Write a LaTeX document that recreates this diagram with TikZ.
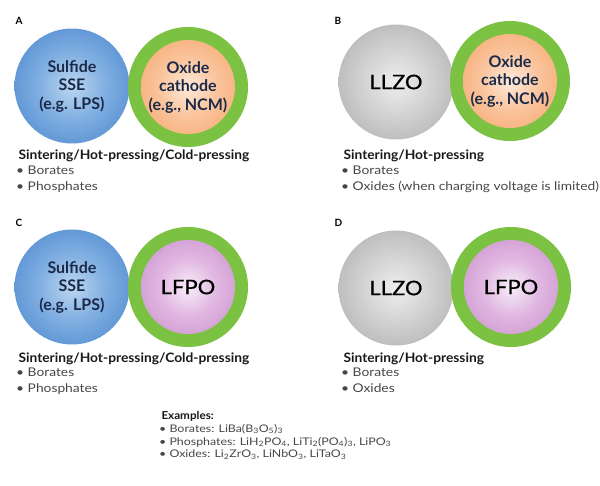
\documentclass[tikz,border=0pt]{standalone}
\usepackage{fontspec}
\setmainfont{Lato}
\newfontfamily\headfont{Lato}[FakeStretch=1.06]
\newfontfamily\listfont{Lato}[FakeStretch=1.15]
\newfontfamily\exfont{Lato}[FakeStretch=1.18]
\newfontfamily\widefont{Lato}[FakeStretch=1.1, FakeBold=0.6]
\usetikzlibrary{positioning}

\definecolor{ringgreen}{HTML}{7CC242}
\definecolor{blueA}{HTML}{BCD7F0}
\definecolor{blueB}{HTML}{82B0E2}
\definecolor{blueC}{HTML}{4E8ACF}
\definecolor{blueD}{HTML}{3A78C2}
\definecolor{grayA}{HTML}{EEEEEE}
\definecolor{grayB}{HTML}{C8C8C8}
\definecolor{grayC}{HTML}{8E8E8E}
\definecolor{orangeA}{HTML}{FDEADB}
\definecolor{orangeB}{HTML}{FAC59E}
\definecolor{orangeC}{HTML}{F6AB74}
\definecolor{orangeD}{HTML}{F3A062}
\definecolor{pinkA}{HTML}{F8EEF8}
\definecolor{pinkB}{HTML}{E1B8E2}
\definecolor{pinkC}{HTML}{CD95CE}
\definecolor{pinkD}{HTML}{C386C6}
\definecolor{navytext}{HTML}{1B2A48}
\definecolor{listgray}{HTML}{474747}

% Dégradés radiaux des particules
\pgfdeclareradialshading{blueball}{\pgfpoint{0bp}{0bp}}{color(0bp)=(blueA); color(14bp)=(blueB); color(32bp)=(blueC); color(50bp)=(blueD)}
\pgfdeclareradialshading{grayball}{\pgfpoint{0bp}{0bp}}{color(0bp)=(grayA); color(20bp)=(grayB); color(50bp)=(grayC)}
\pgfdeclareradialshading{orangeball}{\pgfpoint{0bp}{0bp}}{color(0bp)=(orangeA); color(15bp)=(orangeB); color(32bp)=(orangeC); color(50bp)=(orangeD)}
\pgfdeclareradialshading{pinkball}{\pgfpoint{0bp}{0bp}}{color(0bp)=(pinkA); color(15bp)=(pinkB); color(32bp)=(pinkC); color(50bp)=(pinkD)}

\begin{document}
\begin{tikzpicture}[
    x=1pt, y=-1pt,
    % Réglages des particules
    particle/.style={circle, inner sep=0pt, minimum size=115pt, shade, align=center},
    coating/.style={circle, inner sep=0pt, minimum size=120pt, fill=ringgreen},
    core/.style={circle, inner sep=0pt, minimum size=94pt, shade, align=center},
    balltext/.style={font=\bfseries\fontsize{16}{18.5}\selectfont, text=navytext},
    bigtext/.style={font=\widefont\fontsize{20}{20}\selectfont, text=black},
    % Réglages des textes
    panel/.style={anchor=base west, font=\bfseries\fontsize{10}{10}\selectfont},
    method/.style={anchor=base west, font=\headfont\bfseries\fontsize{13}{13}\selectfont, text=black!90},
    bullets/.style={anchor=north west, align=left, inner sep=0pt,
        font=\listfont\fontsize{12}{15.5}\selectfont, text=listgray},
]
\useasboundingbox (0,0) rectangle (600,485);

% A
\node[panel] (labA) at (12,24) {A};
\node[particle, shading=blueball, balltext] (sseA) at (72,86) {Sulfide\\SSE\\(e.g. LPS)};
\node[coating] (ringA) at (188,87) {};
\node[core, shading=orangeball, balltext] (catA) at (ringA) {Oxide\\cathode\\(e.g., NCM)};
\node[method] (methA) at (15,159) {Sintering/Hot-pressing/Cold-pressing};
\node[bullets] (listA) at (16,166) {• Borates\\• Phosphates};

% B
\node[panel] (labB) at (331,24) {B};
\node[particle, shading=grayball, bigtext] (llzoB) at (396,82) {LLZO};
\node[coating] (ringB) at (510,81) {};
\node[core, shading=orangeball, balltext] (catB) at (ringB) {Oxide\\cathode\\(e.g., NCM)};
\node[method] (methB) at (340,159) {Sintering/Hot-pressing};
\node[bullets] (listB) at (341,166) {• Borates\\• Oxides (when charging voltage is limited)};

% C
\node[panel] (labC) at (12,226) {C};
\node[particle, shading=blueball, balltext] (sseC) at (72,287) {Sulfide\\SSE\\(e.g. LPS)};
\node[coating] (ringC) at (188,287) {};
\node[core, shading=pinkball, bigtext] (catC) at (ringC) {LFPO};
\node[method] (methC) at (15,362) {Sintering/Hot-pressing/Cold-pressing};
\node[bullets] (listC) at (16,368) {• Borates\\• Phosphates};

% D
\node[panel] (labD) at (331,226) {D};
\node[particle, shading=grayball, bigtext] (llzoD) at (396,288) {LLZO};
\node[coating] (ringD) at (511,287) {};
\node[core, shading=pinkball, bigtext] (catD) at (ringD) {LFPO};
\node[method] (methD) at (340,362) {Sintering/Hot-pressing};
\node[bullets] (listD) at (341,368) {• Borates\\• Oxides};

% Exemples
\node[anchor=base west, font=\headfont\bfseries\fontsize{11}{11}\selectfont, text=black!90] (exHead) at (158,419) {Examples:};
\node[bullets, font=\exfont\fontsize{10.5}{12.7}\selectfont] (exList) at (159,424)
    {• Borates: LiBa(B\textsubscript{3}O\textsubscript{5})\textsubscript{3}\\
     • Phosphates: LiH\textsubscript{2}PO\textsubscript{4}, LiTi\textsubscript{2}(PO\textsubscript{4})\textsubscript{3}, LiPO\textsubscript{3}\\
     • Oxides: Li\textsubscript{2}ZrO\textsubscript{3}, LiNbO\textsubscript{3}, LiTaO\textsubscript{3}};
\end{tikzpicture}
\end{document}
